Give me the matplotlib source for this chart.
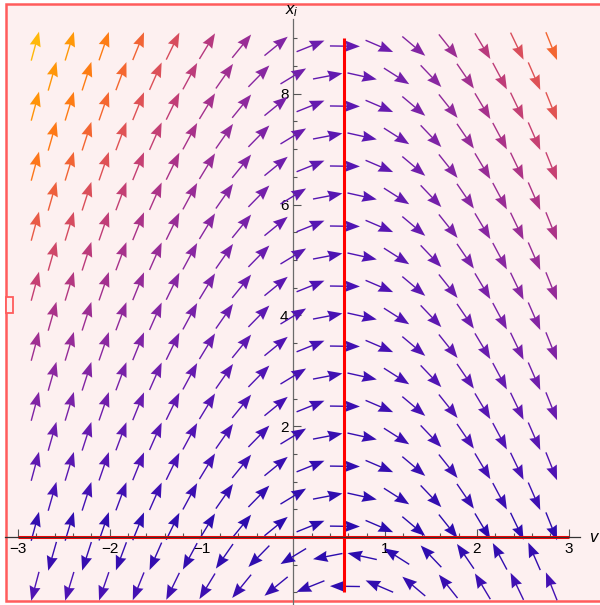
import numpy as np
import matplotlib.pyplot as plt
from matplotlib.colors import LinearSegmentedColormap
from matplotlib.patches import Rectangle

plt.rcParams['font.family'] = ['Liberation Sans', 'DejaVu Sans']
plt.rcParams['mathtext.fontset'] = 'custom'
plt.rcParams['mathtext.it'] = 'Liberation Sans:italic'
plt.rcParams['mathtext.rm'] = 'Liberation Sans'

# staggered grid of arrow positions (rows alternate between the two column sets)
v_row_a = np.arange(16) * 0.375 - 2.8125
v_row_b = np.arange(15) * 0.375 - 2.625
x_rows = np.linspace(8.86, -0.89, 19)

# field: dv/dt = x, dx/dt = k * x * (v0 - v)
v0 = 0.55
k = 1.83

# nullclines drawn in red
null_vert_x = [-1.0, 9.0]
null_horiz_v = [-3.0, 3.0]

v_ticks = [-3, -2, -1, 1, 2, 3]
x_ticks = [2, 4, 6, 8]

arrow_colors = ['#2c0cae', '#4a12b4', '#6a1cae', '#8a28a0', '#a8328a',
                '#c84270', '#e6584c', '#fb6e22', '#ff8a08', '#ffb80a']
color_stops = [0.0, 0.08, 0.18, 0.30, 0.42, 0.52, 0.62, 0.72, 0.85, 1.0]
cmap = LinearSegmentedColormap.from_list('field', list(zip(color_stops, arrow_colors)))

W, H = 600, 605
xlim = (-3.195, 3.341)
ylim = (-1.227, 9.693)
sx = W / (xlim[1] - xlim[0])
sy = H / (ylim[1] - ylim[0])

pts_v, pts_x = [], []
for i, xr in enumerate(x_rows):
    cols = v_row_a if i % 2 == 0 else v_row_b
    pts_v.extend(cols)
    pts_x.extend([xr] * len(cols))
pts_v = np.array(pts_v)
pts_x = np.array(pts_x)

dv = pts_x
dx = k * pts_x * (v0 - pts_v)
mag = np.hypot(dv, dx)
t = (mag - mag.min()) / (mag.max() - mag.min())

# uniform arrow length on screen
L = 30.0
su = dv * sx
sw = dx * sy
sn = np.hypot(su, sw)
U = su / sn * L
V = sw / sn * L

fig = plt.figure(figsize=(W / 100, H / 100), dpi=100)
fig.patch.set_facecolor('white')
fig.add_artist(Rectangle((6 / W, 4 / H), 1.0, 597 / H, transform=fig.transFigure,
                         facecolor='#fdf0f0', edgecolor='#ff5c5c', lw=1.8, zorder=-2))
fig.add_artist(Rectangle((6 / W, (H - 313) / H), 7 / W, 16 / H, transform=fig.transFigure,
                         facecolor='#fdf0f0', edgecolor='#ff5c5c', lw=1.3, zorder=5))

ax = fig.add_axes([0, 0, 1, 1])
ax.patch.set_alpha(0)
ax.set_xlim(xlim)
ax.set_ylim(ylim)

ax.quiver(pts_v, pts_x, U, V, color=cmap(t), angles='uv', scale_units='dots', scale=1,
          pivot='middle', units='dots', width=1.4, headwidth=8, headlength=10.5,
          headaxislength=9.5, zorder=2)

ax.plot([v0, v0], null_vert_x, color='red', lw=2.2, zorder=3, solid_capstyle='butt')
ax.plot(null_horiz_v, [0, 0], color='red', lw=2.2, zorder=3, solid_capstyle='butt')

for side in ['top', 'right']:
    ax.spines[side].set_visible(False)
ax.spines['left'].set_position(('data', 0))
ax.spines['bottom'].set_position(('data', 0))
ax.spines['left'].set_bounds(-1.23, 9.35)
ax.spines['bottom'].set_bounds(-3.14, 3.12)
ax.spines['left'].set_color('#6b6b6b')
ax.spines['bottom'].set_color('#333333')
ax.spines['left'].set_linewidth(0.9)
ax.spines['bottom'].set_linewidth(0.9)
ax.spines['left'].set_zorder(1)
ax.spines['bottom'].set_zorder(4)

ax.set_xticks(v_ticks)
ax.set_xticks(np.arange(-3, 3.01, 0.2), minor=True)
ax.set_yticks(x_ticks)
ax.set_yticks(np.arange(-1, 9.01, 0.5), minor=True)
ax.tick_params(which='both', direction='in', color='#555555', width=0.8, labelsize=11)
ax.tick_params(which='major', length=5.5, pad=3.5)
ax.tick_params(which='minor', length=3.2)

fig.text(292 / W, 1 - 11 / H, r'$x_i$', ha='center', va='center', fontsize=12)
fig.text(589 / W, 1 - 537 / H, r'$v$', ha='left', va='center', fontsize=12)

fig.savefig('out.png', dpi=100)
